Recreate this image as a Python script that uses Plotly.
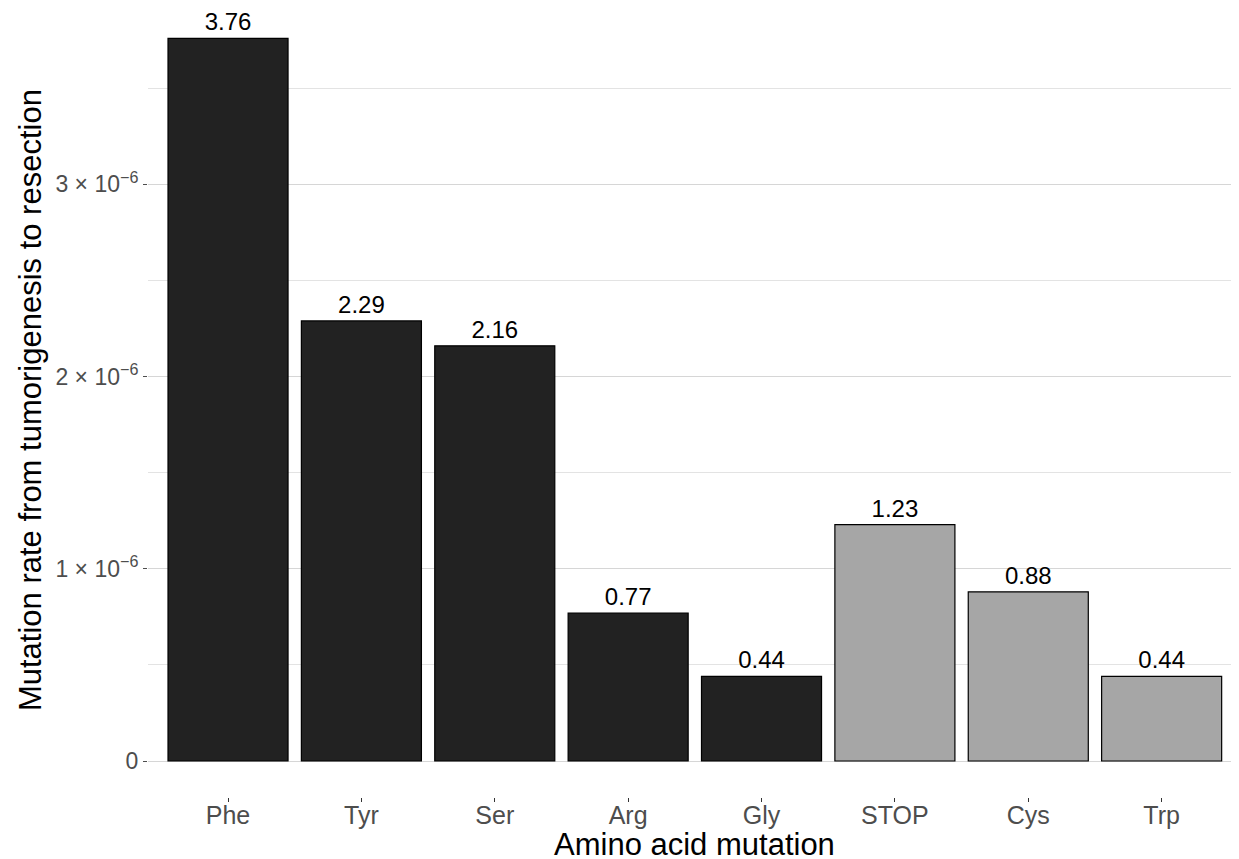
import plotly.graph_objects as go

categories = ["Phe", "Tyr", "Ser", "Arg", "Gly", "STOP", "Cys", "Trp"]
rates = [3.76e-6, 2.29e-6, 2.16e-6, 0.77e-6, 0.44e-6, 1.23e-6, 0.88e-6, 0.44e-6]
labels = ["3.76", "2.29", "2.16", "0.77", "0.44", "1.23", "0.88", "0.44"]
groups = ["dark", "dark", "dark", "dark", "dark", "light", "light", "light"]
ytick_vals = [0, 1e-6, 2e-6, 3e-6]
ytick_text = ["0", "1 × 10<sup>−6</sup>", "2 × 10<sup>−6</sup>", "3 × 10<sup>−6</sup>"]

color_map = {"dark": "#222222", "light": "#a6a6a6"}
colors = [color_map[g] for g in groups]

FONT = "Liberation Sans"

fig = go.Figure()
fig.add_trace(go.Bar(
    x=categories, y=rates, width=0.9,
    marker=dict(color=colors, line=dict(color="black", width=1.2)),
    text=labels, textposition="outside", cliponaxis=False,
    textfont=dict(size=24, color="black", family=FONT),
    hoverinfo="skip",
))

fig.update_layout(
    width=1239, height=859,
    margin=dict(l=140, r=0, t=0, b=70, autoexpand=False),
    paper_bgcolor="white", plot_bgcolor="white",
    font=dict(family=FONT, color="#4d4d4d"),
    showlegend=False,
    annotations=[
        dict(text="Amino acid mutation", xref="paper", yref="paper", x=0.4977, y=-0.0608,
             xanchor="center", yanchor="middle", showarrow=False,
             font=dict(size=31, color="black", family=FONT)),
        dict(text="Mutation rate from tumorigenesis to resection", xref="paper", yref="paper",
             x=-0.1074, y=0.503, textangle=-90, xanchor="center", yanchor="middle", showarrow=False,
             font=dict(size=31, color="black", family=FONT)),
    ],
)
fig.update_xaxes(
    range=[-0.6, 7.64], showgrid=False, zeroline=False, automargin=False,
    ticks="outside", ticklen=4, tickcolor="#333333", tickwidth=1,
    ticklabelstandoff=-8,
    tickfont=dict(size=25, color="#4d4d4d"),
)
fig.update_yaxes(
    range=[-0.1873e-6, 3.918e-6], zeroline=False, automargin=False,
    tickvals=ytick_vals, ticktext=ytick_text,
    showgrid=True, gridcolor="#d6d6d6", gridwidth=1.1,
    minor=dict(tickvals=[0.5e-6, 1.5e-6, 2.5e-6, 3.5e-6], showgrid=True, gridcolor="#e3e3e3", gridwidth=0.8),
    ticks="outside", ticklen=4, tickcolor="#4d4d4d",
    tickfont=dict(size=23, color="#4d4d4d"),
)

fig.write_html("out.html")
